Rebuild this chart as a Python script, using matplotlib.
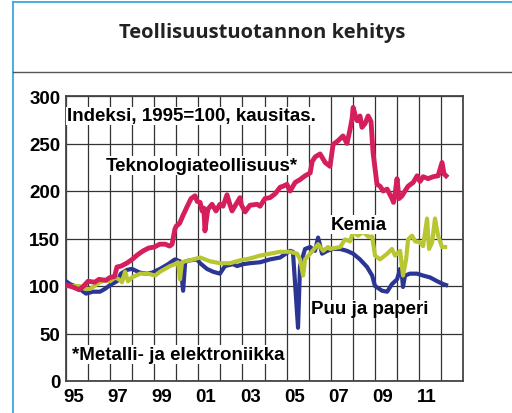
import matplotlib
matplotlib.use("Agg")
import matplotlib.pyplot as plt
from matplotlib.lines import Line2D

# Teknologiateollisuus (vuosi, indeksi)
tek_x = [1995.0, 1995.3, 1995.6, 1995.8, 1996.0, 1996.3, 1996.5, 1996.8, 1997.0, 1997.2,
         1997.31, 1997.5, 1997.75, 1998.0, 1998.25, 1998.5, 1998.75, 1999.0, 1999.25, 1999.5,
         1999.7, 1999.81, 1999.94, 2000.0, 2000.15, 2000.3, 2000.5, 2000.67, 2000.85, 2000.95,
         2001.08, 2001.17, 2001.25, 2001.3, 2001.4, 2001.44, 2001.62, 2001.8, 2001.98, 2002.12,
         2002.3, 2002.44, 2002.53, 2002.76, 2002.89, 2002.96, 2003.12, 2003.34, 2003.66, 2003.8,
         2004.02, 2004.25, 2004.48, 2004.71, 2004.84, 2005.02, 2005.11, 2005.16, 2005.39, 2005.61,
         2005.84, 2006.07, 2006.16, 2006.3, 2006.52, 2006.75, 2006.97, 2007.11, 2007.34, 2007.56,
         2007.74, 2007.88, 2007.97, 2008.02, 2008.11, 2008.2, 2008.33, 2008.42, 2008.56, 2008.7,
         2008.83, 2008.92, 2009.1, 2009.24, 2009.38, 2009.56, 2009.78, 2009.85, 2009.92, 2010.01,
         2010.1, 2010.24, 2010.37, 2010.51, 2010.74, 2010.92, 2011.05, 2011.19, 2011.42, 2011.64,
         2011.87, 2012.05, 2012.14, 2012.23]
tek_y = [101, 99, 96, 100, 105, 104, 107, 106, 109, 110,
         120, 121, 124, 128, 133, 137, 140, 141, 144, 144,
         142, 144, 160, 163, 166, 174, 184, 192, 195, 189,
         188, 179, 182, 158, 176, 181, 186, 179, 186, 184,
         196, 185, 179, 188, 193, 185, 178, 185, 186, 184,
         192, 193, 197, 204, 205, 207, 202, 200, 209, 212,
         216, 219, 231, 236, 239, 230, 226, 249, 253, 258,
         250, 265, 276, 288, 280, 274, 279, 267, 271, 279,
         273, 241, 207, 205, 200, 202, 192, 188, 197, 213,
         192, 195, 200, 205, 209, 216, 210, 215, 213, 215,
         216, 230, 218, 216]

# Kemia
kem_x = [1995.0, 1995.3, 1995.6, 1995.85, 1996.1, 1996.54, 1996.77, 1997.0, 1997.22, 1997.4,
         1997.54, 1997.68, 1997.81, 1997.99, 1998.36, 1998.72, 1999.04, 1999.26, 1999.49, 1999.72,
         1999.94, 2000.08, 2000.17, 2000.26, 2000.4, 2000.62, 2001.08, 2001.53, 2001.98, 2002.44,
         2002.89, 2003.34, 2003.8, 2004.25, 2004.71, 2005.16, 2005.48, 2005.61, 2005.75, 2005.84,
         2006.07, 2006.43, 2006.66, 2006.88, 2006.97, 2007.43, 2007.65, 2007.88, 2008.02, 2008.24,
         2008.47, 2008.7, 2008.88, 2009.01, 2009.24, 2009.56, 2009.78, 2009.92, 2010.15, 2010.28,
         2010.42, 2010.51, 2010.69, 2010.83, 2011.05, 2011.19, 2011.37, 2011.46, 2011.6, 2011.73,
         2011.87, 2012.05, 2012.19]
kem_y = [100, 100, 100, 97, 97, 104, 106, 105, 109, 107,
         104, 115, 105, 109, 113, 113, 111, 115, 118, 121,
         123, 125, 107, 125, 126, 127, 130, 126, 124, 124,
         127, 129, 132, 134, 136, 136, 134, 128, 111, 128,
         134, 144, 137, 141, 139, 141, 149, 147, 157, 153,
         157, 152, 152, 132, 128, 134, 139, 132, 137, 111,
         128, 149, 153, 147, 146, 142, 171, 139, 146, 171,
         153, 141, 141]

# Puu ja paperi
puu_x = [1995.0, 1995.18, 1995.5, 1995.73, 1995.91, 1996.22, 1996.54, 1996.77, 1997.0, 1997.31,
         1997.49, 1997.77, 1997.99, 1998.36, 1998.67, 1998.9, 1999.26, 1999.63, 1999.81, 1999.94,
         2000.17, 2000.31, 2000.4, 2000.44, 2000.62, 2000.94, 2001.08, 2001.39, 2001.67, 2001.98,
         2002.12, 2002.21, 2002.57, 2002.76, 2003.03, 2003.34, 2003.8, 2004.25, 2004.71, 2005.16,
         2005.29, 2005.52, 2005.61, 2005.75, 2005.84, 2006.07, 2006.29, 2006.43, 2006.61, 2006.84,
         2007.1, 2007.43, 2007.74, 2008.02, 2008.33, 2008.65, 2008.88, 2009.01, 2009.33, 2009.56,
         2009.78, 2010.01, 2010.15, 2010.24, 2010.28, 2010.37, 2010.6, 2010.92, 2011.19, 2011.51,
         2011.83, 2012.1, 2012.23]
puu_y = [105, 102, 99, 95, 92, 94, 94, 97, 101, 105,
         113, 117, 118, 114, 113, 114, 118, 123, 126, 128,
         126, 95, 124, 126, 127, 128, 124, 118, 115, 113,
         118, 121, 123, 121, 123, 124, 125, 128, 130, 137,
         136, 56, 121, 132, 139, 141, 137, 151, 134, 137,
         139, 139, 137, 134, 128, 120, 111, 100, 95, 94,
         102, 107, 118, 109, 99, 111, 113, 113, 111, 109,
         105, 102, 101]

years = list(range(1995, 2013))
year_labels = ["95", "97", "99", "01", "03", "05", "07", "09", "11"]

fig = plt.figure(figsize=(5.12, 4.14), dpi=100)

# kehys ja otsikko
fig.add_artist(Line2D([13 / 512, 13 / 512], [0, 1 - 3 / 414], color="#3aa8e0", lw=1.3))
fig.add_artist(Line2D([13 / 512, 1], [1 - 3 / 414, 1 - 3 / 414], color="#3aa8e0", lw=1.3))
fig.add_artist(Line2D([13 / 512, 1], [1 - 73 / 414, 1 - 73 / 414], color="#555555", lw=1.0))
fig.text(262 / 512, 1 - 33 / 414, "Teollisuustuotannon kehitys", ha="center", va="center",
         fontsize=14.5, fontweight="bold", family="Open Sans", color="#222222")

ax = fig.add_axes([66 / 512, 1 - 382 / 414, 397 / 512, 285 / 414])

ax.plot(puu_x, puu_y, color="#2b3594", lw=3.0, solid_joinstyle="round", zorder=3)
ax.plot(kem_x, kem_y, color="#b7c631", lw=3.0, solid_joinstyle="round", zorder=4)
ax.plot(tek_x, tek_y, color="#d51f5c", lw=3.5, solid_joinstyle="round", zorder=5)

ax.set_xlim(1995, 2013)
ax.set_ylim(0, 300)
ax.set_yticks([0, 50, 100, 150, 200, 250, 300])
ax.set_xticks(years)
ax.set_xticklabels([])
ax.set_xticks([y + 0.35 for y in range(1995, 2012, 2)], minor=True)
ax.set_xticklabels(year_labels, minor=True)
ax.tick_params(axis="x", which="both", length=0, pad=5)
ax.tick_params(axis="y", length=0, pad=4)
for lab in ax.get_yticklabels() + ax.get_xticklabels(minor=True):
    lab.set_fontsize(13.5)
    lab.set_fontweight("bold")
    lab.set_family("Liberation Sans")

ax.grid(True, which="major", color="#333333", lw=0.9)
ax.set_axisbelow(True)
for s in ax.spines.values():
    s.set_color("#444444")
    s.set_linewidth(1.3)

box = dict(facecolor="white", edgecolor="none", pad=0.5)
tfont = dict(fontsize=13.5, fontweight="bold", family="Liberation Sans", zorder=6)
ax.text(1995.05, 279, "Indeksi, 1995=100, kausitas.", ha="left", va="center", bbox=box, **tfont)
ax.text(1996.8, 227, "Teknologiateollisuus*", ha="left", va="center", bbox=box, **tfont)
ax.text(2007.0, 165, "Kemia", ha="left", va="center", bbox=box, **tfont)
ax.text(2006.1, 76, "Puu ja paperi", ha="left", va="center", bbox=box, **tfont)
ax.text(1995.25, 28, "*Metalli- ja elektroniikka", ha="left", va="center", bbox=box, **tfont)

fig.savefig("out.png", dpi=100)
